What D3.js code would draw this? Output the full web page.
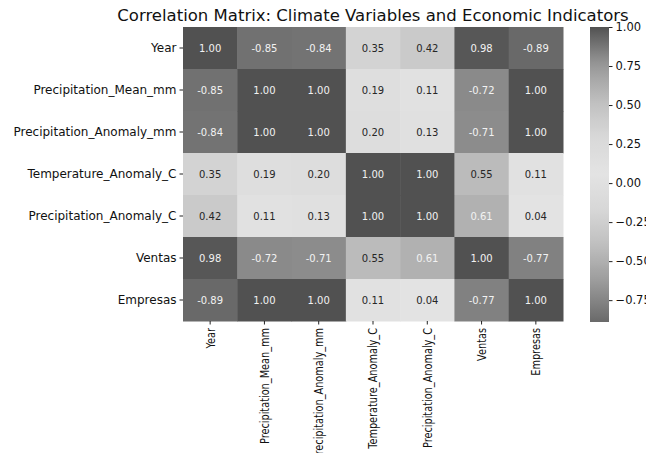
<!DOCTYPE html>
<html>
<head>
<meta charset="utf-8">
<script src="https://cdn.jsdelivr.net/npm/d3@7"></script>
<style>
  html, body { margin: 0; padding: 0; background: #fff; }
  svg { display: block; }
  text { font-family: "DejaVu Sans", sans-serif; }
</style>
</head>
<body>
<svg id="chart" width="646" height="453"></svg>
<script>
// Variable names (rows and columns of the matrix)
const variables = [
  "Year",
  "Precipitation_Mean_mm",
  "Precipitation_Anomaly_mm",
  "Temperature_Anomaly_C",
  "Precipitation_Anomaly_C",
  "Ventas",
  "Empresas"
];

// Pairwise correlation coefficients, one row per variable
const rowYear        = [ 1.00, -0.85, -0.84, 0.35, 0.42,  0.98, -0.89];
const rowPrecipMean  = [-0.85,  1.00,  1.00, 0.19, 0.11, -0.72,  1.00];
const rowPrecipAnomM = [-0.84,  1.00,  1.00, 0.20, 0.13, -0.71,  1.00];
const rowTempAnom    = [ 0.35,  0.19,  0.20, 1.00, 1.00,  0.55,  0.11];
const rowPrecipAnomC = [ 0.42,  0.11,  0.13, 1.00, 1.00,  0.61,  0.04];
const rowVentas      = [ 0.98, -0.72, -0.71, 0.55, 0.61,  1.00, -0.77];
const rowEmpresas    = [-0.89,  1.00,  1.00, 0.11, 0.04, -0.77,  1.00];
const matrix = [rowYear, rowPrecipMean, rowPrecipAnomM, rowTempAnom, rowPrecipAnomC, rowVentas, rowEmpresas];

// Colour bar ticks
const colorbarTicks = [1.00, 0.75, 0.50, 0.25, 0.00, -0.25, -0.50, -0.75];

const title = "Correlation Matrix: Climate Variables and Economic Indicators";

// ---- layout ----
const plot = { left: 183, top: 27, right: 563, bottom: 321 };
const cbar = { left: 590, width: 19, top: 27, bottom: 322 };

const svg = d3.select("#chart");

const x = d3.scaleBand().domain(variables).range([plot.left, plot.right]);
const y = d3.scaleBand().domain(variables).range([plot.top, plot.bottom]);

const flat = matrix.flat();
const vmin = d3.min(flat), vmax = d3.max(flat);

// coolwarm colormap anchor colours
const coolwarmStops = [
  [59, 76, 192], [98, 130, 234], [141, 176, 254], [184, 208, 249],
  [221, 221, 221], [245, 196, 173], [244, 154, 123], [222, 96, 77], [180, 4, 38]
];
const coolwarm = d3.scaleLinear()
  .domain(coolwarmStops.map((_, i) => i / (coolwarmStops.length - 1)))
  .range(coolwarmStops.map(c => d3.rgb(c[0], c[1], c[2])))
  .interpolate(d3.interpolateRgb)
  .clamp(true);
const norm = d3.scaleLinear().domain([vmin, vmax]).range([0, 1]).clamp(true);

// The colour map rendered as greys
function grayOf(v) {
  const c = d3.rgb(coolwarm(norm(v)));
  const l = (0.299 * c.r + 0.587 * c.g + 0.114 * c.b) / 255;
  const g = Math.round(255 * Math.pow(l, 0.8));
  return d3.rgb(g, g, g).formatHex();
}
// Annotation colour chosen from the colour's relative luminance
function textColorOf(v) {
  const c = d3.rgb(coolwarm(norm(v)));
  const lin = u => { u /= 255; return u <= 0.03928 ? u / 12.92 : Math.pow((u + 0.055) / 1.055, 2.4); };
  const lum = 0.2126 * lin(c.r) + 0.7152 * lin(c.g) + 0.0722 * lin(c.b);
  return lum > 0.408 ? "#262626" : "#f2f2f2";
}

const cells = [];
matrix.forEach((row, i) => row.forEach((v, j) => cells.push({ r: variables[i], c: variables[j], v })));

// ---- cells ----
svg.append("g").selectAll("rect").data(cells).join("rect")
  .attr("x", d => x(d.c))
  .attr("y", d => y(d.r))
  .attr("width", x.bandwidth() + 0.5)
  .attr("height", y.bandwidth() + 0.5)
  .attr("fill", d => grayOf(d.v));

svg.append("g").selectAll("text").data(cells).join("text")
  .attr("x", d => x(d.c) + x.bandwidth() / 2)
  .attr("y", d => y(d.r) + y.bandwidth() / 2)
  .attr("text-anchor", "middle")
  .attr("dominant-baseline", "central")
  .attr("font-size", 10)
  .attr("fill", d => textColorOf(d.v))
  .text(d => d3.format(".2f")(d.v).replace("−", "-"));

// ---- axes ----
const yAxis = svg.append("g")
  .attr("transform", `translate(${plot.left},0)`)
  .call(d3.axisLeft(y).tickSize(3.5).tickPadding(3));
yAxis.select(".domain").remove();
yAxis.selectAll("text").attr("font-size", 12).attr("fill", "#111")
  .attr("font-family", "DejaVu Sans, sans-serif");
yAxis.selectAll("line").attr("stroke", "#222");

const xAxis = svg.append("g")
  .attr("transform", `translate(0,${plot.bottom})`)
  .call(d3.axisBottom(x).tickSize(3.5).tickPadding(3));
xAxis.select(".domain").remove();
xAxis.selectAll("line").attr("stroke", "#222");
xAxis.selectAll("text")
  .attr("font-size", 12.5)
  .attr("font-family", "Liberation Sans, Arial, sans-serif")
  .attr("fill", "#111")
  .attr("text-anchor", "end")
  .attr("dy", "0.35em")
  .attr("transform", "translate(0,7) rotate(-90) scale(0.78,1)")
  .attr("x", 0)
  .attr("y", 0);

// ---- colour bar ----
const cbScale = d3.scaleLinear().domain([vmin, vmax]).range([cbar.bottom, cbar.top]);
const grad = svg.append("defs").append("linearGradient")
  .attr("id", "cbgrad").attr("x1", 0).attr("y1", 1).attr("x2", 0).attr("y2", 0);
d3.range(0, 1.0001, 0.02).forEach(t => {
  grad.append("stop").attr("offset", t).attr("stop-color", grayOf(vmin + t * (vmax - vmin)));
});
svg.append("rect")
  .attr("x", cbar.left).attr("y", cbar.top)
  .attr("width", cbar.width).attr("height", cbar.bottom - cbar.top)
  .attr("fill", "url(#cbgrad)");

const cbAxis = svg.append("g")
  .attr("transform", `translate(${cbar.left + cbar.width},0)`)
  .call(d3.axisRight(cbScale).tickValues(colorbarTicks).tickSize(3.5).tickPadding(3)
    .tickFormat(d3.format(".2f")));
cbAxis.select(".domain").remove();
cbAxis.selectAll("line").attr("stroke", "#222");
cbAxis.selectAll("text").attr("font-size", 11.5).attr("fill", "#111")
  .attr("font-family", "DejaVu Sans, sans-serif");

// ---- title ----
svg.append("text")
  .attr("x", (plot.left + plot.right) / 2)
  .attr("y", 21)
  .attr("text-anchor", "middle")
  .attr("font-size", 16.5)
  .attr("fill", "#111")
  .text(title);
</script>
</body>
</html>
